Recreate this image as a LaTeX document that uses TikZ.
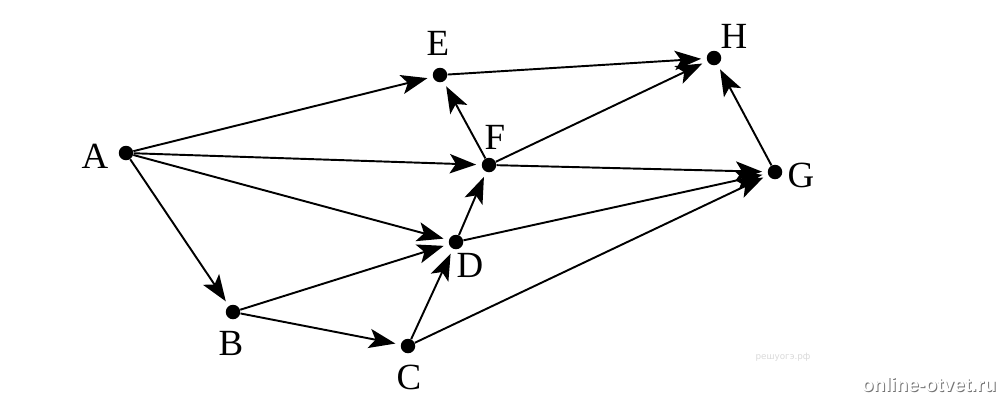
\documentclass[tikz,border=0pt]{standalone}
\usepackage{fontspec}
\setmainfont{Liberation Serif}
\newfontfamily\wmfont{Liberation Sans}
\newfontfamily\rufont{DejaVu Sans}
\usetikzlibrary{arrows.meta}

\begin{document}
\begin{tikzpicture}[
        x=0.02cm, y=-0.02cm,
        % --- styles ---
        vertex/.style={circle, fill=black, inner sep=0pt, minimum size=0.29cm},
        lbl/.style={font=\fontsize{21}{24}\selectfont, inner sep=0pt},
        edge/.style={draw, line width=1.1pt, -{Stealth[length=15pt, width=11pt, inset=3.5pt]}, shorten >=3pt}
    ]
    \useasboundingbox (0,0) rectangle (1005,400);

    % --- vertices ---
    \node[vertex] (A) at (126,153) {};
    \node[vertex] (B) at (233,312) {};
    \node[vertex] (C) at (408,346) {};
    \node[vertex] (D) at (456,242) {};
    \node[vertex] (E) at (440,75) {};
    \node[vertex] (F) at (489,165) {};
    \node[vertex] (G) at (775,172) {};
    \node[vertex] (H) at (714,58) {};

    % --- labels ---
    \node[lbl] (labA) at (95,156) {A};
    \node[lbl] (labB) at (231,343) {B};
    \node[lbl] (labC) at (409,377) {C};
    \node[lbl] (labD) at (470,265) {D};
    \node[lbl] (labE) at (438,43) {E};
    \node[lbl] (labF) at (495,137) {F};
    \node[lbl] (labG) at (801,175) {G};
    \node[lbl] (labH) at (734,36) {H};

    % --- edges ---
    \path[edge] (A) -- (E);
    \path[edge] (A) -- (F);
    \path[edge] (A) -- (D);
    \path[edge] (A) -- (B);
    \path[edge] (B) -- (D);
    \path[edge] (B) -- (C);
    \path[edge] (C) -- (D);
    \path[edge] (C) -- (G);
    \path[edge] (D) -- (F);
    \path[edge] (D) -- (G);
    \path[edge] (F) -- (E);
    \path[edge] (F) -- (H);
    \path[edge] (F) -- (G);
    \path[edge] (E) -- (H);
    \path[edge] (G) -- (H);

    % --- watermarks ---
    \node[text=black!15, font=\rufont\fontsize{5}{6}\selectfont] (wmsmall) at (783,357) {решуогэ.рф};
    \node[text=black!55, font=\wmfont\bfseries\fontsize{11}{13}\selectfont] (wmshadow) at (930,386) {online-otvet.ru};
    \node[text=white, font=\wmfont\bfseries\fontsize{11}{13}\selectfont] (wm) at (929,385) {online-otvet.ru};
\end{tikzpicture}
\end{document}
